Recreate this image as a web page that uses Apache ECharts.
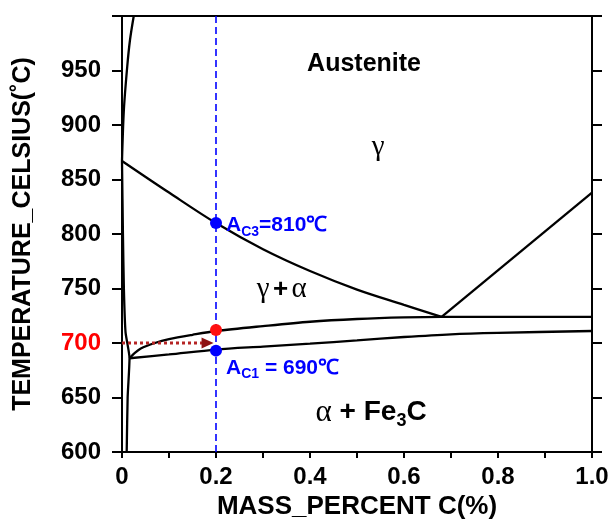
<!DOCTYPE html>
<html>
<head>
<meta charset="utf-8">
<script src="https://cdn.jsdelivr.net/npm/echarts@6/dist/echarts.min.js"></script>
<style>
html,body{margin:0;padding:0;background:#fff;}
#chart{width:613px;height:525px;}
</style>
</head>
<body>
<div id="chart"></div>
<script>
// ---- data (mass percent C, temperature °C) ----
const gammaBoundaryC = [0, 0.004, 0.011, 0.017, 0.025];
const gammaBoundaryT = [867, 914, 953, 978, 1000];

const alphaBoundaryC = [0, 0.002, 0.004, 0.0075, 0.016, 0.012, 0.010];
const alphaBoundaryT = [867, 800, 750, 710, 686, 650, 600];

const a3C = [0, 0.1, 0.2, 0.3, 0.4, 0.5, 0.6, 0.68];
const a3T = [867, 838, 810, 786, 766, 749, 735, 724];

const acmC = [0.68, 1.0];
const acmT = [724, 838];

const upperC = [0.016, 0.025, 0.04, 0.07, 0.1, 0.15, 0.2, 0.3, 0.4, 0.5, 0.6, 0.68, 1.0];
const upperT = [686, 690, 695, 700, 703.5, 707.5, 711, 715.5, 719.5, 722, 723.5, 724, 724];

const lowerC = [0.016, 0.1, 0.2, 0.3, 0.4, 0.5, 0.6, 0.7, 0.8, 1.0];
const lowerT = [686, 689.5, 694, 696.7, 699.4, 702.4, 705.5, 708, 709.3, 711];

const steelC = 0.2;            // vertical dashed composition line
const ac3Temp = 810;
const ac1Temp = 693;
const redPointTemp = 712;
const arrowTemp = 700;
const arrowEndC = 0.182;

const xTickLabels = ['0', '', '0.2', '', '0.4', '', '0.6', '', '0.8', '', '1.0'];
const yTickLabels = ['600', '650', '700', '750', '800', '850', '900', '950', ''];

const zip = (a, b) => a.map((v, i) => [v, b[i]]);

const sans = 'Liberation Sans, Arial, Helvetica, sans-serif';
const serif = 'Liberation Serif, Times New Roman, serif';

const chart = echarts.init(document.getElementById('chart'), null, {renderer: 'canvas'});

const curve = (name, data, smooth) => ({
  name, type: 'line', data, showSymbol: false, symbol: 'none', smooth: smooth,
  lineStyle: {color: '#000', width: 2.3}, z: 3, silent: true
});

const blue = '#0000ff';

const option = {
  animation: false,
  backgroundColor: '#fff',
  grid: {left: 122, right: 21, top: 16, bottom: 73, containLabel: false, outerBoundsMode: 'none'},
  xAxis: [{
    type: 'value', min: 0, max: 1, interval: 0.1,
    name: 'MASS_PERCENT C(%)', nameLocation: 'middle', nameGap: 40,
    nameTextStyle: {fontFamily: sans, fontWeight: 'bold', fontSize: 26, color: '#000'},
    axisLine: {show: true, onZero: false, lineStyle: {color: '#000', width: 2}},
    axisTick: {show: true, length: 6, lineStyle: {color: '#000', width: 2}},
    axisLabel: {
      show: true, margin: 13, hideOverlap: false, showMinLabel: true, showMaxLabel: true,
      fontFamily: sans, fontWeight: 'bold', fontSize: 24, color: '#000',
      formatter: (v) => xTickLabels[Math.round(v * 10)] || ''
    },
    splitLine: {show: false}
  }, {
    type: 'value', min: 0, max: 1, position: 'top',
    axisLine: {show: true, onZero: false, lineStyle: {color: '#000', width: 2}},
    axisTick: {show: false}, axisLabel: {show: false}, splitLine: {show: false}
  }],
  yAxis: [{
    type: 'value', min: 600, max: 1000, interval: 50,
    name: 'TEMPERATURE_CELSIUS(˚C)', nameLocation: 'middle', nameGap: 86, nameRotate: 90,
    nameTextStyle: {fontFamily: sans, fontWeight: 'bold', fontSize: 25, color: '#000'},
    axisLine: {show: true, onZero: false, lineStyle: {color: '#000', width: 2}},
    axisTick: {show: true, length: 10, lineStyle: {color: '#000', width: 2}},
    axisLabel: {
      show: true, margin: 21, showMinLabel: true, showMaxLabel: true,
      fontFamily: sans, fontWeight: 'bold', fontSize: 24, color: '#000',
      formatter: (v) => {
        const s = yTickLabels[Math.round((v - 600) / 50)] || '';
        return s === '700' ? '{r|' + s + '}' : s;
      },
      rich: {r: {color: '#ff0000', fontFamily: sans, fontWeight: 'bold', fontSize: 24}}
    },
    splitLine: {show: false}
  }, {
    type: 'value', min: 600, max: 1000, interval: 50, position: 'right',
    axisLine: {show: true, onZero: false, lineStyle: {color: '#000', width: 2}},
    axisTick: {show: true, length: 10, lineStyle: {color: '#000', width: 2}},
    axisLabel: {show: false}, splitLine: {show: false}
  }],
  series: [
    curve('gammaBoundary', zip(gammaBoundaryC, gammaBoundaryT), 0.3),
    curve('alphaBoundary', zip(alphaBoundaryC, alphaBoundaryT), 0.2),
    curve('A3', zip(a3C, a3T), 0.35),
    curve('Acm', zip(acmC, acmT), false),
    curve('upper', zip(upperC, upperT), 0.3),
    curve('lower', zip(lowerC, lowerT), 0.3),
    {
      name: 'steel', type: 'line', symbol: 'none', z: 4, silent: true,
      data: [[steelC, 600], [steelC, 1000]],
      lineStyle: {color: blue, width: 1.6, type: [7, 4]}
    },
    {
      name: 'arrowLine', type: 'line', symbol: 'none', z: 4, silent: true,
      data: [[0, arrowTemp], [arrowEndC, arrowTemp]],
      lineStyle: {color: '#b52424', width: 3, type: [3, 3]}
    },
    {
      name: 'arrowHead', type: 'scatter', z: 5, silent: true,
      symbol: 'triangle', symbolRotate: -90, symbolSize: [11, 12],
      itemStyle: {color: '#8e1212', opacity: 1},
      data: [[arrowEndC, arrowTemp]]
    },
    {
      name: 'points', type: 'scatter', z: 6, silent: true, symbolSize: 12,
      itemStyle: {opacity: 1},
      data: [
        {value: [steelC, ac3Temp], itemStyle: {color: blue, opacity: 1},
          label: {show: true, position: 'right', distance: 4, offset: [0, 4],
            formatter: '{a|A}{s|C3}{a|=810℃}'}},
        {value: [steelC, redPointTemp], itemStyle: {color: '#ff1010', opacity: 1}},
        {value: [steelC, ac1Temp], itemStyle: {color: blue, opacity: 1},
          label: {show: true, position: 'right', distance: 4, offset: [0, 19],
            formatter: '{a|A}{s|C1}{a| = 690℃}'}}
      ],
      label: {
        color: blue, textBorderWidth: 0,
        rich: {
          a: {fontFamily: sans, fontWeight: 'bold', fontSize: 21, color: blue, lineHeight: 24, verticalAlign: 'top'},
          s: {fontFamily: sans, fontWeight: 'bold', fontSize: 14, color: blue, lineHeight: 14, verticalAlign: 'bottom', padding: [12, 0, 0, 0]}
        }
      }
    },
    {
      name: 'regions', type: 'scatter', z: 6, silent: true, symbolSize: 0,
      itemStyle: {opacity: 1},
      label: {
        show: true, position: 'inside', color: '#000', textBorderWidth: 0,
        rich: {
          b: {fontFamily: sans, fontWeight: 'bold', fontSize: 25, color: '#000', textBorderWidth: 0},
          g: {fontFamily: serif, fontSize: 29, color: '#000', textBorderWidth: 0},
          p: {fontFamily: sans, fontWeight: 'bold', fontSize: 26, color: '#000', textBorderWidth: 0},
          g2: {fontFamily: serif, fontSize: 31, color: '#000', textBorderWidth: 0},
          p2: {fontFamily: sans, fontWeight: 'bold', fontSize: 28, color: '#000', textBorderWidth: 0},
          s2: {fontFamily: sans, fontWeight: 'bold', fontSize: 18, color: '#000', textBorderWidth: 0, verticalAlign: 'bottom', padding: [16, 0, 0, 0]}
        }
      },
      data: [
        {value: [0.515, 956], label: {formatter: '{b|Austenite}'}},
        {value: [0.545, 879], label: {formatter: '{g|γ}'}},
        {value: [0.34, 749], label: {formatter: '{g|γ} {p|+} {g|α}'}},
        {value: [0.53, 636], label: {formatter: '{g2|α}{p2| + Fe}{s2|3}{p2|C}'}}
      ]
    }
  ]
};

chart.setOption(option);
</script>
</body>
</html>
